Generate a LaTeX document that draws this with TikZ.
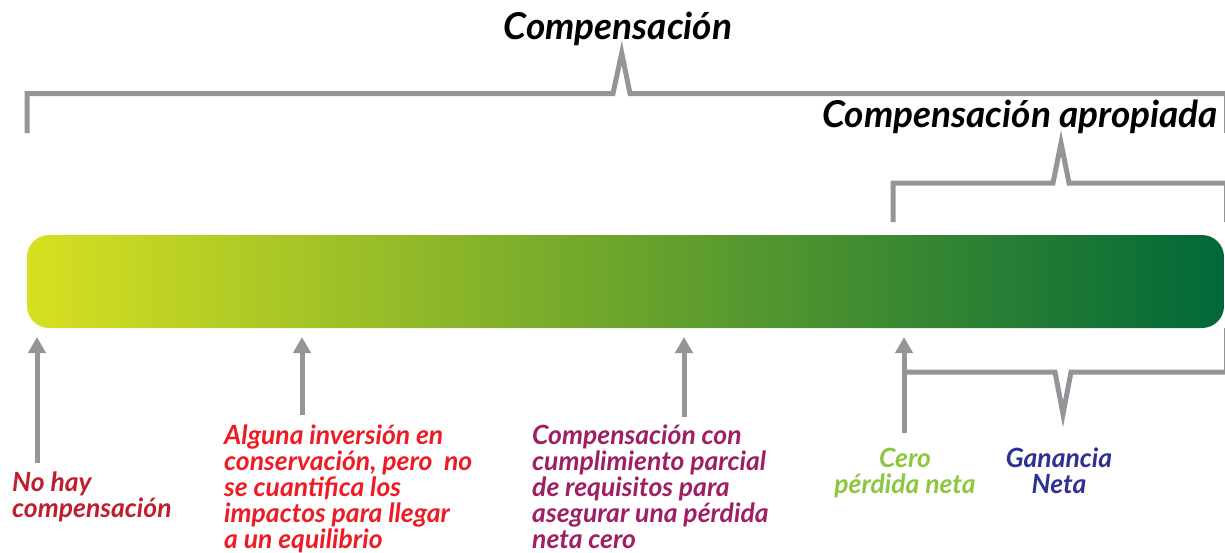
\documentclass[tikz,border=0pt]{standalone}
\usepackage{fontspec}
\setmainfont{Lato}
\usetikzlibrary{positioning,arrows.meta}
\definecolor{linegray}{HTML}{939598}
\definecolor{barleft}{HTML}{D7E021}
\definecolor{barmid}{HTML}{7C9D3A}
\definecolor{barright}{HTML}{006838}
\definecolor{noneRed}{HTML}{BE1E2D}
\definecolor{someRed}{HTML}{ED1C24}
\definecolor{partPurple}{HTML}{9E1F63}
\definecolor{zeroGreen}{HTML}{8DC63F}
\definecolor{gainBlue}{HTML}{2E3192}
\tikzset{
  bracket line/.style={
    draw=linegray,
    line width=5pt,
  },
  up arrow/.style={
    draw=linegray,
    line width=5pt,
    -{Triangle[width=17pt,length=16pt]},
  },
  heading/.style={
    font=\fontsize{37}{42}\selectfont\bfseries\itshape,
    inner sep=0pt,
  },
  caption/.style={
    font=\fontsize{26.5}{25.8}\selectfont\bfseries\itshape,
    align=left,
    inner sep=0pt,
    text=#1,
  },
}

\begin{document}
\begin{tikzpicture}[x=1pt,y=-1pt]
        \useasboundingbox (0,0) rectangle (1225,552);

        % the bar
        \node [minimum width=1197pt, minimum height=93pt, rounded corners=22pt,
               left color=barleft, middle color=barmid, right color=barright,
               inner sep=0pt] (bar) at (625.5,281.5) {};

        % brackets
        \draw [bracket line] (27,133) -- (27,93.5) -- (613,93.5) -- (621.7,53)
              -- (630,93.5) -- (1226.5,93.5) -- (1226.5,133);
        \draw [bracket line] (893,222) -- (893,183) -- (1053,183) -- (1061,143)
              -- (1069,183) -- (1226.5,183) -- (1226.5,222);
        \draw [bracket line] (904,372) -- (1055,372) -- (1063,414)
              -- (1071,372) -- (1226.5,372) -- (1226.5,328);

        \node [heading, anchor=base] (comp) at (618,39) {Compensación};
        \node [heading, anchor=base east] (compok) at (1218,127) {Compensación apropiada};

        % arrows
        \coordinate (t1) at (37,463);  \coordinate (h1) at (37,337);
        \coordinate (t2) at (302,415); \coordinate (h2) at (302,337);
        \coordinate (t3) at (684,417); \coordinate (h3) at (684,337);
        \coordinate (t4) at (904,433); \coordinate (h4) at (904,337);
        \draw [up arrow] (t1) -- (h1);
        \draw [up arrow] (t2) -- (h2);
        \draw [up arrow] (t3) -- (h3);
        \draw [up arrow] (t4) -- (h4);

        % base anchor = baseline of the last line
        \node [caption=noneRed, anchor=base west] (none) at (12,517)
              {No hay\\compensación};
        \node [caption=someRed, anchor=base west] (some) at (224,548)
              {Alguna inversión en\\conservación, pero~ no\\se cuantifica los\\impactos para llegar\\a un equilibrio};
        \node [caption=partPurple, anchor=base west] (part) at (532,548)
              {Compensación con\\cumplimiento parcial\\de requisitos para\\asegurar una pérdida\\neta cero};
        \node [caption=zeroGreen, align=center, anchor=base] (zero) at (905,493)
              {Cero\\pérdida neta};
        \node [caption=gainBlue, align=center, anchor=base] (gain) at (1059,493)
              {Ganancia\\Neta};
      \end{tikzpicture}
\end{document}
